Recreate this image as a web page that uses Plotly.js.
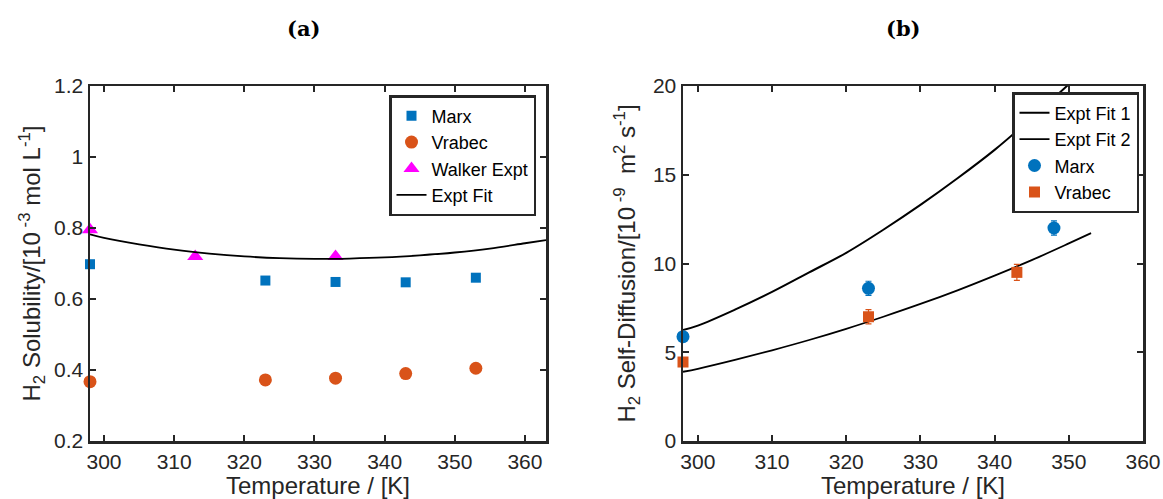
<!DOCTYPE html>
<html>
<head>
<meta charset="utf-8">
<script src="https://cdn.plot.ly/plotly-3.0.1.min.js"></script>
<style>html,body{margin:0;padding:0;background:#fff;}#chart{width:1163px;height:499px;}</style>
</head>
<body>
<div id="chart"></div>
<script>
// ---- Panel (a): solubility ----
const solTemps = [298, 323, 333, 343, 353];
const marxSol = [0.698, 0.652, 0.648, 0.647, 0.660];
const marxSolErr = [0.008, 0.006, 0.006, 0.006, 0.010];
const vrabecSol = [0.367, 0.372, 0.377, 0.390, 0.405];
const vrabecSolErr = [0.005, 0.005, 0.005, 0.005, 0.005];
const walkerTemps = [298, 313, 333];
const walkerSol = [0.795, 0.720, 0.720];
const solFitTemps = [298, 300, 305, 310, 315, 320, 325, 330, 335, 340, 345, 350, 355, 360, 363];
const solFit = [0.782, 0.772, 0.754, 0.739, 0.728, 0.720, 0.715, 0.713, 0.714, 0.717, 0.723, 0.731, 0.742, 0.757, 0.766];
const solYTicks = [0.2, 0.4, 0.6, 0.8, 1, 1.2];
const solYTickText = ['0.2', '0.4', '0.6', '0.8', '1', '1.2'];

// ---- Panel (b): self-diffusion ----
const marxDiffTemps = [298, 323, 348];
const marxDiff = [5.88, 8.6, 12.0];
const marxDiffErr = [0.15, 0.4, 0.4];
const vrabecDiffTemps = [298, 323, 343];
const vrabecDiff = [4.45, 7.0, 9.5];
const vrabecDiffErr = [0.15, 0.4, 0.45];
const diffFitTemps = [298, 300, 305, 310, 315, 320, 325, 330, 335, 340, 345, 350, 353];
const diffFit1 = [6.25, 6.5, 7.4, 8.4, 9.5, 10.6, 11.9, 13.3, 14.8, 16.4, 18.2, 20.1, 21.3];
const diffFit2 = [3.9, 4.07, 4.57, 5.11, 5.69, 6.32, 7.0, 7.72, 8.49, 9.32, 10.19, 11.13, 11.71];
const diffYTicks = [0, 5, 10, 15, 20];

const xTicks = [300, 310, 320, 330, 340, 350, 360];

const BLUE = '#0072BD', ORANGE = '#D95319', MAGENTA = '#FF00FF', AX = '#262626';
const FONT = 'Liberation Sans, Arial, Helvetica, sans-serif';

const traces = [
  {x: solTemps, y: marxSol, name: 'Marx', type: 'scatter', mode: 'markers', cliponaxis: false,
   marker: {symbol: 'square', size: 10, color: BLUE},
   error_y: {type: 'data', array: marxSolErr, visible: true, color: BLUE, thickness: 1.2, width: 3},
   xaxis: 'x', yaxis: 'y', legend: 'legend'},
  {x: solTemps, y: vrabecSol, name: 'Vrabec', type: 'scatter', mode: 'markers', cliponaxis: false,
   marker: {symbol: 'circle', size: 13, color: ORANGE},
   error_y: {type: 'data', array: vrabecSolErr, visible: true, color: ORANGE, thickness: 1.2, width: 3},
   xaxis: 'x', yaxis: 'y', legend: 'legend'},
  {x: walkerTemps, y: walkerSol, name: 'Walker Expt', type: 'scatter', mode: 'markers', cliponaxis: false,
   marker: {symbol: 'triangle-up', size: 14, color: MAGENTA},
   xaxis: 'x', yaxis: 'y', legend: 'legend'},
  {x: solFitTemps, y: solFit, name: 'Expt Fit', type: 'scatter', mode: 'lines',
   line: {color: '#000', width: 1.8, shape: 'spline'},
   xaxis: 'x', yaxis: 'y', legend: 'legend'},

  {x: diffFitTemps, y: diffFit1, name: 'Expt Fit 1', type: 'scatter', mode: 'lines',
   line: {color: '#000', width: 2, shape: 'spline'},
   xaxis: 'x2', yaxis: 'y2', legend: 'legend2'},
  {x: diffFitTemps, y: diffFit2, name: 'Expt Fit 2', type: 'scatter', mode: 'lines',
   line: {color: '#000', width: 1.8, shape: 'spline'},
   xaxis: 'x2', yaxis: 'y2', legend: 'legend2'},
  {x: marxDiffTemps, y: marxDiff, name: 'Marx', type: 'scatter', mode: 'markers', cliponaxis: false,
   marker: {symbol: 'circle', size: 13, color: BLUE},
   error_y: {type: 'data', array: marxDiffErr, visible: true, color: BLUE, thickness: 1.2, width: 3},
   xaxis: 'x2', yaxis: 'y2', legend: 'legend2'},
  {x: vrabecDiffTemps, y: vrabecDiff, name: 'Vrabec', type: 'scatter', mode: 'markers', cliponaxis: false,
   marker: {symbol: 'square', size: 11, color: ORANGE},
   error_y: {type: 'data', array: vrabecDiffErr, visible: true, color: ORANGE, thickness: 1.2, width: 3},
   xaxis: 'x2', yaxis: 'y2', legend: 'legend2'}
];

const W = 1163, H = 499;
const yDom = [(H - 441) / H, (H - 86) / H];

function xAxis(domain, range, anchor) {
  return {
    domain: domain, range: range, anchor: anchor,
    tickvals: xTicks, ticks: 'inside', ticklen: 6, tickwidth: 2, tickcolor: AX,
    showline: true, linewidth: 2.5, linecolor: AX, mirror: 'ticks',
    showgrid: false, zeroline: false, automargin: false,
    tickfont: {family: FONT, size: 21, color: AX},
    title: {text: 'Temperature / [K]', font: {family: FONT, size: 24, color: AX}, standoff: 5}
  };
}
function yAxis(range, anchor, vals, text, title, standoff) {
  const a = {
    domain: yDom, range: range, anchor: anchor,
    tickvals: vals, ticks: 'inside', ticklen: 6, tickwidth: 2, tickcolor: AX,
    showline: true, linewidth: 2.5, linecolor: AX, mirror: 'ticks',
    showgrid: false, zeroline: false, automargin: false,
    tickfont: {family: FONT, size: 21, color: AX},
    title: {text: title, font: {family: FONT, size: 24, color: AX}, standoff: standoff}
  };
  if (text) a.ticktext = text;
  return a;
}

const legendBase = {
  xref: 'paper', yref: 'paper', xanchor: 'left', yanchor: 'top',
  bgcolor: '#fff', bordercolor: AX, borderwidth: 2.5,
  font: {family: FONT, size: 18, color: '#000'}, tracegroupgap: 0, itemwidth: 30
};

const layout = {
  width: W, height: H,
  margin: {l: 0, r: 0, t: 0, b: 0},
  paper_bgcolor: '#fff', plot_bgcolor: '#fff',
  showlegend: true,
  xaxis: xAxis([90 / W, 546 / W], [298, 363], 'y'),
  yaxis: yAxis([0.2, 1.2], 'x', solYTicks, solYTickText,
    'H<sub>2</sub> Solubility/[10<sup> -3</sup> mol L<sup>-1</sup>]', 7),
  xaxis2: xAxis([683 / W, 1143 / W], [298, 360], 'y2'),
  yaxis2: yAxis([0, 20], 'x2', diffYTicks, null,
    'H<sub>2</sub> Self-Diffusion/[10<sup> -9</sup>  m<sup>2</sup> s<sup>-1</sup>]', 11),
  legend: Object.assign({}, legendBase, {x: 389 / W, y: 1 - 95 / H}),
  legend2: Object.assign({}, legendBase, {x: 1012 / W, y: 1 - 92 / H}),
  annotations: [
    {text: '<b>(a)</b>', xref: 'paper', yref: 'paper', x: 303 / W, y: 1 - 28 / H,
     xanchor: 'center', yanchor: 'middle', showarrow: false,
     font: {family: 'DejaVu Serif, Liberation Serif, serif', size: 21, color: '#000'}},
    {text: '<b>(b)</b>', xref: 'paper', yref: 'paper', x: 903 / W, y: 1 - 28 / H,
     xanchor: 'center', yanchor: 'middle', showarrow: false,
     font: {family: 'DejaVu Serif, Liberation Serif, serif', size: 21, color: '#000'}}
  ]
};

Plotly.newPlot('chart', traces, layout, {staticPlot: true, displayModeBar: false});
</script>
</body>
</html>
